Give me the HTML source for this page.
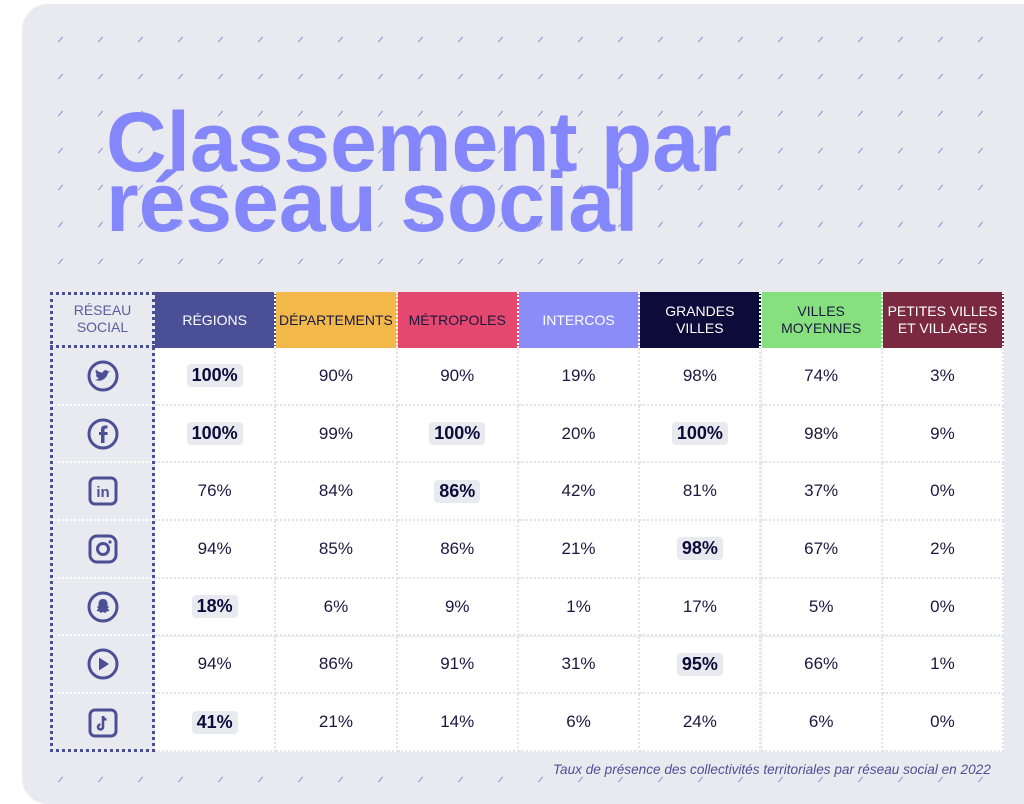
<!DOCTYPE html>
<html><head><meta charset="utf-8">
<style>
body{margin:0;width:1024px;height:788px;background:#fff;overflow:hidden;font-family:"Liberation Sans",sans-serif;position:relative}
#card{position:absolute;left:22px;top:4px;width:1030px;height:800px;background:#e9eaef;border-radius:26px}
.sl{position:absolute;width:1px;height:7px;background:#8b8ed8;transform:rotate(40deg)}
.title{position:absolute;left:106px;font-weight:bold;font-size:84px;color:#8387fb;letter-spacing:0px;line-height:1}
.cell{position:absolute;box-sizing:border-box;display:flex;align-items:center;justify-content:center;text-align:center}
.hd{font-size:14px;line-height:17px;color:#fff;font-family:"Liberation Sans Narrow","Liberation Sans",sans-serif}
.val{font-size:17px;color:#1a1840;background:#fff;border-right:2px dotted #e4e4e8;border-bottom:2px dotted #e4e4e8}
.b{font-weight:bold;background:#e9eaef;padding:1px 5px;border-radius:4px;color:#0d0b3a;font-size:18px}
.ic{border-bottom:2px dotted #fff}
</style></head><body>
<div id="card"></div>
<div id="slashes"></div>
<div class="title" style="top:100px">Classement par</div>
<div class="title" style="top:160px">réseau social</div>
<div id="table"></div>
<div style="position:absolute;left:553px;top:762px;font-size:13.6px;font-style:italic;color:#4b4f96">Taux de présence des collectivités territoriales par réseau social en 2022</div>
<script>
const categories=["RÉGIONS","DÉPARTEMENTS","MÉTROPOLES","INTERCOS","GRANDES<br>VILLES","VILLES<br>MOYENNES","PETITES VILLES<br>ET VILLAGES"];
const catColors=["#4b4f96","#f3b84a","#e4486e","#8b8cf7","#0d0b3a","#86e07e","#7b2940"];
const catText=["#fff","#1a1840","#1a1840","#fff","#fff","#1a1840","#fff"];
const networks=["twitter","facebook","linkedin","instagram","snapchat","youtube","tiktok"];
const values=[
[100,90,90,19,98,74,3],
[100,99,100,20,100,98,9],
[76,84,86,42,81,37,0],
[94,85,86,21,98,67,2],
[18,6,9,1,17,5,0],
[94,86,91,31,95,66,1],
[41,21,14,6,24,6,0]];
const highlight=[[0],[0,2,4],[2],[4],[0],[4],[0]];

const sl=document.getElementById('slashes');
for(let y=36;y<780;y+=37)for(let x=60;x<1020;x+=40){
 if(y>280&&y<755&&x>40)continue;
 const d=document.createElement('div');d.className='sl';d.style.left=x+'px';d.style.top=y+'px';
 
 
 sl.appendChild(d);}
const T=document.getElementById('table');
const x0=155,cw=121.3,hy=292,hh=56,rh=57.7;
function add(html,cls,l,t,w,h,st,name){const d=document.createElement('div');d.className='cell '+cls;
 d.style.cssText=`left:${l}px;top:${t}px;width:${w}px;height:${h}px;`+(st||'');d.innerHTML=html;
 
 
 T.appendChild(d);return d;}
add('','',50,hy,105,752-hy,'background:#e9eaef;border:3px dotted #4b4f96;','network-column');
add('RÉSEAU<br>SOCIAL','hd',50,hy,105,hh,'color:#5a5ea0;border-bottom:3px dotted #4b4f96;','header-network');
categories.forEach((c,i)=>{add(c,'hd',x0+i*cw,hy,cw,hh,`background:${catColors[i]};color:${catText[i]};border-right:2px dotted #fff;`,'header-'+i);});
const icons={
twitter:'<circle cx="17" cy="17" r="14" fill="none" stroke="#4b4f96" stroke-width="3"/><path d="M9 21c5 2 11 0 13-7l2-2-2 .5c-1-2-5-2-5 1-3 0-5-1-7-3-1 2 0 4 1 5l-1 0c0 2 1 3 3 4-1 .5-2 1-4 1.5z" fill="#4b4f96"/>',
facebook:'<circle cx="17" cy="17" r="14" fill="none" stroke="#4b4f96" stroke-width="3"/><path d="M18.5 26v-8h3v-3h-3v-2c0-1 .5-1.5 1.5-1.5h1.5v-3h-2.5c-3 0-4 2-4 4v2.5h-2v3h2v8z" fill="#4b4f96"/>',
linkedin:'<rect x="4" y="4" width="26" height="26" rx="5" fill="none" stroke="#4b4f96" stroke-width="3"/><text x="17" y="23" font-size="15" font-weight="bold" fill="#4b4f96" text-anchor="middle" font-family="Liberation Sans">in</text>',
instagram:'<rect x="4" y="4" width="26" height="26" rx="7" fill="none" stroke="#4b4f96" stroke-width="3"/><circle cx="17" cy="17" r="5.5" fill="none" stroke="#4b4f96" stroke-width="3"/><circle cx="24" cy="10" r="1.6" fill="#4b4f96"/>',
snapchat:'<circle cx="17" cy="17" r="14" fill="none" stroke="#4b4f96" stroke-width="3"/><path d="M17 9c-3 0-4.5 2-4.5 5v2l-2 1 2 1-2 3 3 .5 1 1.5 2.5-1 2.5 1 1-1.5 3-.5-2-3 2-1-2-1v-2c0-3-1.5-5-4.5-5z" fill="#4b4f96"/>',
youtube:'<circle cx="17" cy="17" r="14" fill="none" stroke="#4b4f96" stroke-width="3"/><path d="M13 10.5v13l10-6.5z" fill="#4b4f96"/>',
tiktok:'<rect x="4" y="4" width="26" height="26" rx="5" fill="none" stroke="#4b4f96" stroke-width="3"/><path d="M17 10v11a2.5 2.5 0 1 1-2.5-2.5M17 10c0 2 1.5 3.5 3.5 3.5" fill="none" stroke="#4b4f96" stroke-width="2.6"/>'};
networks.forEach((n,r)=>{const t=hy+hh+r*rh;
 add(`<svg width="34" height="34" viewBox="0 0 34 34">${icons[n]}</svg>`,'ic',53,t,99,rh,r==6?'border-bottom:none;':'','icon-'+n);
 values[r].forEach((v,c)=>{const hl=highlight[r].includes(c);
  add(hl?`<span class="b">${v}%</span>`:v+'%','val',x0+c*cw,t,cw,rh,'','value-'+n+'-'+c);});});
</script>
</body></html>
